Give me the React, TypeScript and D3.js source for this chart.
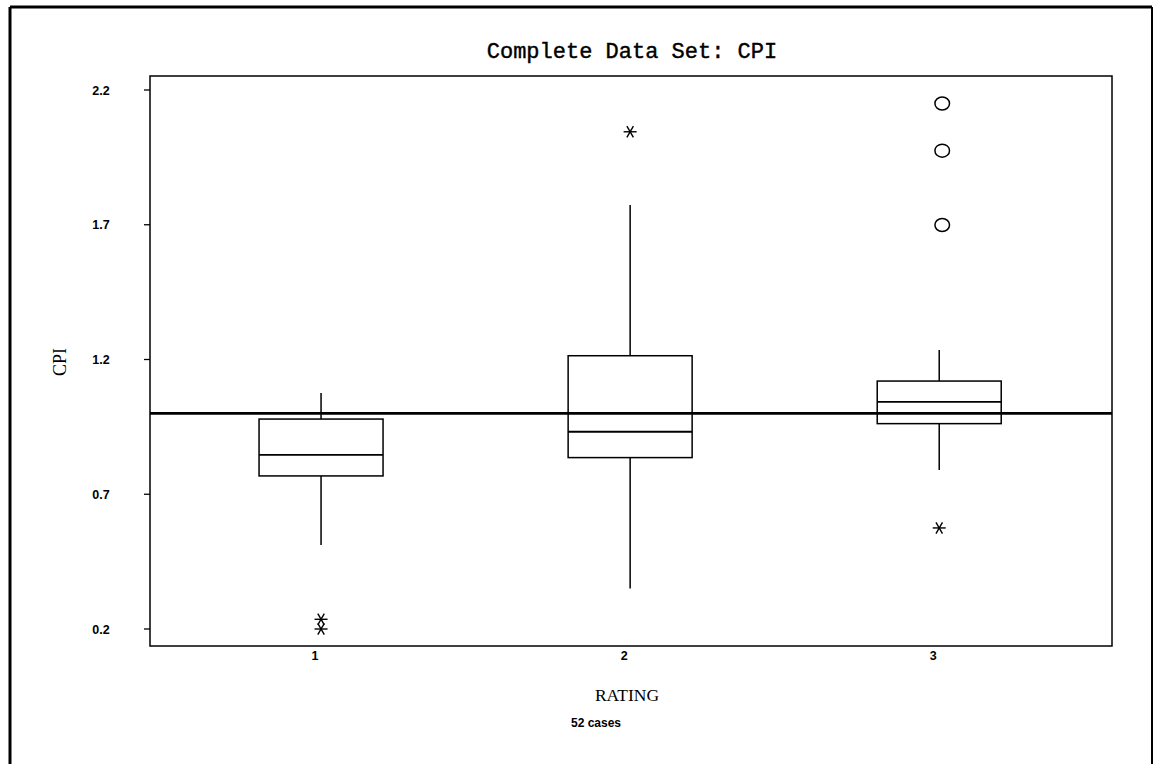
import React from "react";
import * as d3 from "d3";

const categories = [1, 2, 3];
const q1 = [0.768, 0.836, 0.962];
const medians = [0.846, 0.932, 1.043];
const q3 = [0.979, 1.214, 1.12];
const whiskerLow = [0.512, 0.35, 0.79];
const whiskerHigh = [1.076, 1.773, 1.235];
const starOutliers = [
  { cat: 1, v: 0.236 },
  { cat: 1, v: 0.2 },
  { cat: 2, v: 2.045 },
  { cat: 3, v: 0.575 },
];
const circleOutliers = [
  { cat: 3, v: 2.15 },
  { cat: 3, v: 1.975 },
  { cat: 3, v: 1.699 },
];
const refValue = 1.0;
const yTicks = [0.2, 0.7, 1.2, 1.7, 2.2];
const title = "Complete Data Set: CPI";
const xLabel = "RATING";
const yLabel = "CPI";
const caseNote = "52 cases";

const W = 1154;
const H = 764;
const L = 150, R = 1112, T = 76, B = 646;

export default function App() {
  const x = d3.scaleLinear().domain([0.4466, 3.559]).range([L, R]);
  const y = d3.scaleLinear().domain([0.2, 2.2]).range([629, 90]);
  const boxW = 124;
  const tickFont = "'Liberation Sans', Arial, sans-serif";

  const star = (cx: number, cy: number, key: string) => {
    const r = 6.5;
    const a = Math.PI / 3;
    return (
      <g key={key} stroke="#000" strokeWidth={1.4}>
        <line x1={cx - r} y1={cy} x2={cx + r} y2={cy} />
        <line x1={cx - r * Math.cos(a)} y1={cy - r * Math.sin(a)} x2={cx + r * Math.cos(a)} y2={cy + r * Math.sin(a)} />
        <line x1={cx + r * Math.cos(a)} y1={cy - r * Math.sin(a)} x2={cx - r * Math.cos(a)} y2={cy + r * Math.sin(a)} />
      </g>
    );
  };

  return (
    <svg width={W} height={H} style={{ position: "absolute", left: 0, top: 0, background: "#fff" }}>
      <rect x={0} y={0} width={W} height={H} fill="#fff" />
      {/* outer border */}
      <line x1={10} y1={7} x2={1152} y2={7} stroke="#000" strokeWidth={3} />
      <line x1={10} y1={7} x2={10} y2={H} stroke="#000" strokeWidth={3} />
      <line x1={1152} y1={7} x2={1152} y2={H} stroke="#000" strokeWidth={2} />

      {/* title */}
      <text x={632} y={58} textAnchor="middle" fontFamily="'Liberation Mono', 'DejaVu Sans Mono', monospace" fontSize={22} fill="#000" stroke="#000" strokeWidth={0.4}>
        {title}
      </text>

      {/* plot frame */}
      <rect x={L} y={T} width={R - L} height={B - T} fill="none" stroke="#000" strokeWidth={1.5} />

      {/* y ticks */}
      {yTicks.map((t) => (
        <g key={t}>
          <line x1={L - 6} x2={L} y1={y(t)} y2={y(t)} stroke="#000" strokeWidth={1.3} />
          <text x={101} y={y(t) + 4.5} textAnchor="middle" fontFamily={tickFont} fontWeight="bold" fontSize={12.5} fill="#000">
            {t.toFixed(1)}
          </text>
        </g>
      ))}

      {/* x tick labels */}
      {categories.map((c) => (
        <text key={c} x={x(c) - 6} y={660} textAnchor="middle" fontFamily={tickFont} fontWeight="bold" fontSize={12.5} fill="#000">
          {c}
        </text>
      ))}

      {/* boxes */}
      {categories.map((c, i) => {
        const cx = x(c);
        return (
          <g key={c} stroke="#000" strokeWidth={1.5} fill="none">
            <line x1={cx} x2={cx} y1={y(whiskerHigh[i])} y2={y(q3[i])} />
            <line x1={cx} x2={cx} y1={y(q1[i])} y2={y(whiskerLow[i])} />
            <rect x={cx - boxW / 2} y={y(q3[i])} width={boxW} height={y(q1[i]) - y(q3[i])} />
            <line x1={cx - boxW / 2} x2={cx + boxW / 2} y1={y(medians[i])} y2={y(medians[i])} strokeWidth={1.8} />
          </g>
        );
      })}

      {/* reference line */}
      <line x1={L} x2={R} y1={y(refValue)} y2={y(refValue)} stroke="#000" strokeWidth={2.6} />

      {/* outliers */}
      {starOutliers.map((o, i) => star(x(o.cat), y(o.v), "s" + i))}
      {circleOutliers.map((o, i) => (
        <ellipse key={"c" + i} cx={x(o.cat) + 3} cy={y(o.v)} rx={7.3} ry={6.5} fill="none" stroke="#000" strokeWidth={1.5} />
      ))}

      {/* axis labels */}
      <text x={627} y={701} textAnchor="middle" fontFamily="'Liberation Serif', 'Times New Roman', serif" fontSize={17.5} fill="#000">
        {xLabel}
      </text>
      <text transform="translate(66,362) rotate(-90)" textAnchor="middle" fontFamily="'Liberation Serif', 'Times New Roman', serif" fontSize={18} fill="#000">
        {yLabel}
      </text>
      <text x={596} y={727} textAnchor="middle" fontFamily={tickFont} fontWeight="bold" fontSize={12} fill="#000">
        {caseNote}
      </text>
    </svg>
  );
}
